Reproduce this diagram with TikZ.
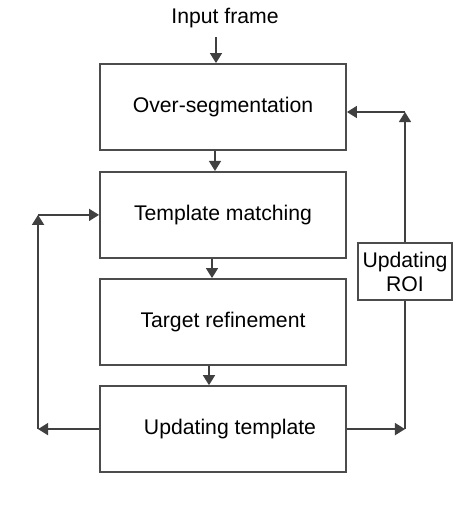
\documentclass[tikz,border=0pt]{standalone}
\usepackage{fontspec}
\setmainfont{Liberation Sans}
\usetikzlibrary{
	arrows.meta,
	positioning
}
\tikzset{
	>={Triangle[length=5pt,width=6pt]},
	flow/.style={->, line width=0.8pt, draw=black!75},
	link/.style={line width=0.8pt, draw=black!75},
	blocknode/.style={draw=black!70, line width=0.95pt, minimum width=123pt, minimum height=43pt, font=\fontsize{10.6}{12.6}\selectfont},
	roinode/.style={draw=black!70, line width=0.8pt, minimum width=47pt, minimum height=28.5pt, align=center, inner sep=1pt, font=\fontsize{10.6}{12}\selectfont},
	labelnode/.style={inner sep=0pt, font=\fontsize{10.6}{12.6}\selectfont}
}

\begin{document}
\begin{tikzpicture}
	\useasboundingbox (0,0) rectangle (237pt,-252.5pt);

	\node[blocknode] (over) at (111.5pt,-53.5pt) {Over-segmentation};
	\node[blocknode] (match) [below=10pt of over] {Template matching};
	\node[blocknode] (refine) [below=9.6pt of match] {Target refinement};
	\node[blocknode] (update) [below=9.6pt of refine] {\hspace*{7pt}Updating template};
	\node[labelnode] (input) at (112.5pt,-9pt) {Input frame};
	\node[roinode] (roi) at (202.5pt,-135.75pt) {Updating\\ROI};

	% main chain
	\draw[flow, shorten <=4.5pt] ([xshift=-4.5pt]input.south) -- ([xshift=-4.5pt]input.south |- over.north);
	\draw[flow] ([xshift=-4pt]over.south) -- ([xshift=-4pt]over.south |- match.north);
	\draw[flow] ([xshift=-5.5pt]match.south) -- ([xshift=-5.5pt]match.south |- refine.north);
	\draw[flow] ([xshift=-7pt]refine.south) -- ([xshift=-7pt]refine.south |- update.north);

	% template loop
	\coordinate (leftbot) at ([xshift=-30.5pt]update.west);
	\coordinate (lefttop) at (leftbot |- match.west);
	\draw[flow] (update.west) -- (leftbot);
	\draw[flow] (leftbot) -- (lefttop);
	\draw[flow] (lefttop) -- (match.west);

	% ROI loop
	\coordinate (rightbot) at (update.east -| roi.south);
	\coordinate (overin) at ([yshift=-2.5pt]over.east);
	\coordinate (righttop) at (overin -| roi.north);
	\draw[flow] (update.east) -- (rightbot);
	\draw[link] (rightbot) -- (roi.south);
	\draw[flow] (roi.north) -- (righttop);
	\draw[flow] (righttop) -- (overin);
\end{tikzpicture}
\end{document}
